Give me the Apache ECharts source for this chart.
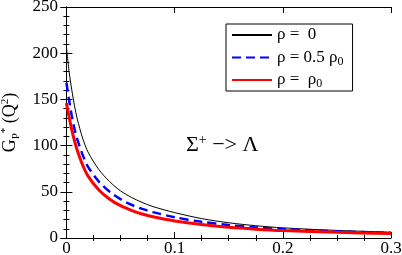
<!DOCTYPE html>
<html><head><meta charset="utf-8">
<script src="https://cdn.jsdelivr.net/npm/echarts@6/dist/echarts.min.js"></script>
<style>html,body{margin:0;padding:0;background:#fff}#c{width:402px;height:255px}
.warm{position:absolute;left:-9999px;top:0;font-family:'Liberation Serif';font-size:17px}</style>
</head><body><span class="warm">250 ρ Σ Λ −&gt; 0.1</span><div id="c"></div>
<script>
const Q2 = [0, 0.0025, 0.005, 0.0075, 0.01, 0.015, 0.02, 0.03, 0.04, 0.05, 0.06, 0.07, 0.08, 0.1, 0.125, 0.15, 0.175, 0.2, 0.25, 0.3];
const rho0 = [207, 180, 160, 143, 129, 108, 93, 74, 61, 51, 44, 38.5, 34, 27.5, 21, 16.5, 13.3, 11, 8.2, 6.3];
const rhoHalf = [168, 149, 132, 118, 107, 90, 77, 61, 50, 42, 36, 31.5, 28, 22.5, 17.5, 14, 11.5, 9.6, 7.2, 5.6];
const rhoFull = [146, 131, 117, 105, 95, 79, 67, 52, 42, 35, 30, 26, 23, 18.5, 14.5, 11.6, 9.6, 8.1, 6.1, 4.8];
const xMajor = [0, 0.1, 0.2, 0.3];
const xMinor = [0.025, 0.05, 0.075, 0.125, 0.15, 0.175, 0.225, 0.25, 0.275];
const seriesNames = ['r0', 'r05', 'r1'];
const legendText = {r0: '{n|ρ =  0}', r05: '{n|ρ = 0.5 ρ}{s|0}', r1: '{n|ρ =  ρ}{s|0}'};

const pairs = arr => Q2.map((q, i) => [q, arr[i]]);
const FONT = 'Liberation Serif';
const baseX = {type: 'value', min: -0.005, max: 0.3, splitLine: {show: false}};
const option = {
  animation: false,
  textStyle: {fontFamily: FONT},
  grid: {left: 61, right: 11, top: 7, bottom: 17, outerBoundsMode: 'none'},
  xAxis: [
    Object.assign({}, baseX, {position: 'bottom',
      axisLine: {show: true, onZero: false, lineStyle: {color: '#000', width: 1}},
      axisTick: {show: true, inside: true, length: 6, customValues: xMajor, lineStyle: {color: '#000'}},
      axisLabel: {show: true, customValues: xMajor, color: '#000', fontSize: 17, fontFamily: FONT, margin: 2,
        formatter: v => String(Math.round(v * 10) / 10)}}),
    Object.assign({}, baseX, {position: 'bottom',
      axisLine: {show: false},
      axisTick: {show: true, inside: true, length: 3, customValues: xMinor, lineStyle: {color: '#000'}},
      axisLabel: {show: false}}),
    Object.assign({}, baseX, {position: 'top',
      axisLine: {show: true, onZero: false, lineStyle: {color: '#000', width: 1}},
      axisTick: {show: true, inside: true, length: 6, customValues: xMajor, lineStyle: {color: '#000'}},
      axisLabel: {show: false}}),
    Object.assign({}, baseX, {position: 'top',
      axisLine: {show: false},
      axisTick: {show: true, inside: true, length: 3, customValues: xMinor, lineStyle: {color: '#000'}},
      axisLabel: {show: false}})
  ],
  yAxis: [
    {type: 'value', position: 'left', min: 0, max: 250, interval: 50, splitLine: {show: false},
      axisLine: {show: true, lineStyle: {color: '#000', width: 1}},
      axisTick: {show: true, inside: true, length: 6, lineStyle: {color: '#000'}},
      minorTick: {show: true, splitNumber: 5, length: 3, lineStyle: {color: '#000'}},
      minorSplitLine: {show: false},
      axisLabel: {color: '#000', fontSize: 17, fontFamily: FONT, margin: 3},
      name: '{m|G}{s|P}{u|*}{m| (Q}{u|2}{m|)}',
      nameLocation: 'middle', nameGap: 36, nameRotate: 90,
      nameTextStyle: {color: '#000', fontFamily: FONT, fontSize: 18,
        rich: {
          m: {fontSize: 18, fontFamily: FONT, color: '#000', lineHeight: 22},
          s: {fontSize: 11, fontFamily: FONT, color: '#000', lineHeight: 12, verticalAlign: 'bottom'},
          u: {fontSize: 11, fontFamily: FONT, color: '#000', lineHeight: 12, verticalAlign: 'top'}
        }}},
    {type: 'value', position: 'right', min: 0, max: 250, interval: 50, splitLine: {show: false},
      axisLine: {show: true, lineStyle: {color: '#000', width: 1}},
      axisTick: {show: true, inside: true, length: 6, lineStyle: {color: '#000'}},
      minorTick: {show: true, splitNumber: 5, length: 3, lineStyle: {color: '#000'}},
      axisLabel: {show: false}}
  ],
  legend: {
    data: seriesNames, orient: 'vertical', left: 226, top: 24,
    backgroundColor: '#fff', borderColor: '#000', borderWidth: 1,
    padding: [1, 9, 1, 5], itemWidth: 40, itemHeight: 14, itemGap: 2.5, itemStyle: {opacity: 0},
    formatter: n => legendText[n],
    textStyle: {color: '#000', fontSize: 17, fontFamily: FONT, lineHeight: 20,
      rich: {
        n: {fontSize: 17, fontFamily: FONT, color: '#000', lineHeight: 20},
        s: {fontSize: 12, fontFamily: FONT, color: '#000', lineHeight: 12, verticalAlign: 'bottom'}
      }}
  },
  title: {
    text: '{n|Σ}{u|+}{n| −> Λ}', left: 181, top: 128,
    textStyle: {fontSize: 22, fontWeight: 'normal', color: '#000', fontFamily: FONT, lineHeight: 24,
      rich: {
        n: {fontSize: 22, fontFamily: FONT, color: '#000', lineHeight: 24},
        u: {fontSize: 14, fontFamily: FONT, color: '#000', lineHeight: 14, verticalAlign: 'top'}
      }}
  },
  series: [
    {name: 'r0', type: 'line', data: pairs(rho0), smooth: 0.3, symbol: 'none', xAxisIndex: 0, yAxisIndex: 0,
      lineStyle: {color: '#000', width: 1}, itemStyle: {color: '#000'}},
    {name: 'r05', type: 'line', data: pairs(rhoHalf), smooth: 0.3, symbol: 'none', xAxisIndex: 0, yAxisIndex: 0,
      lineStyle: {color: '#0000ff', width: 2.5, type: [9, 5]}, itemStyle: {color: '#0000ff'}},
    {name: 'r1', type: 'line', data: pairs(rhoFull), smooth: 0.3, symbol: 'none', xAxisIndex: 0, yAxisIndex: 0,
      lineStyle: {color: '#ff0000', width: 3}, itemStyle: {color: '#ff0000'}}
  ]
};
let chart = echarts.init(document.getElementById('c'));
chart.setOption(option);
if (document.fonts && document.fonts.load) {
  document.fonts.load('17px "Liberation Serif"').then(() => {
    chart.dispose();
    chart = echarts.init(document.getElementById('c'));
    chart.setOption(option);
  });
}
</script></body></html>
